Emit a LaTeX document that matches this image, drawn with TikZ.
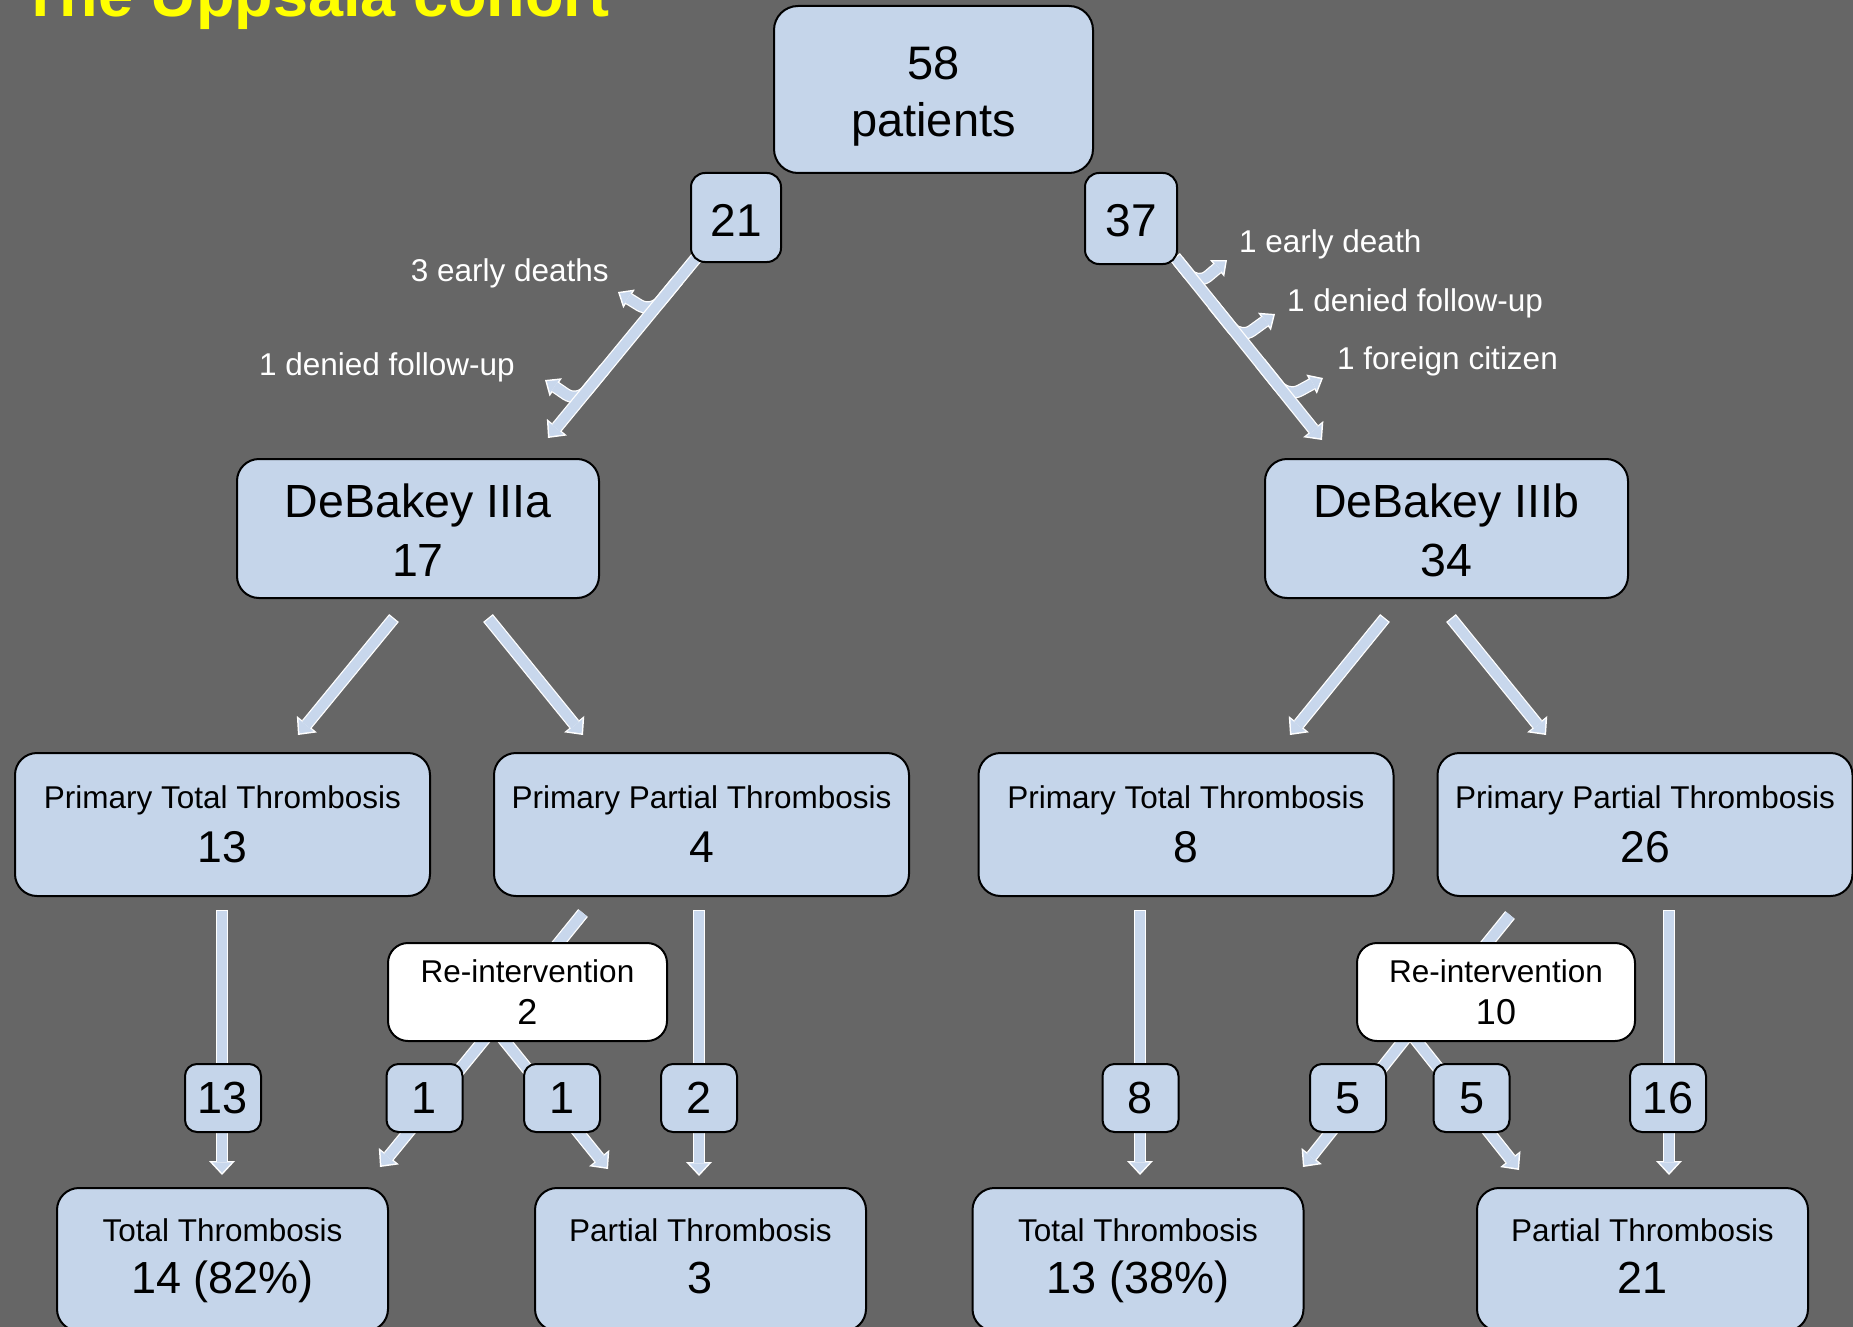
\documentclass[tikz,border=0pt]{standalone}
\usepackage{fontspec}
\setmainfont{Liberation Sans}
\usetikzlibrary{arrows.meta}
\definecolor{bggray}{HTML}{666666}
\definecolor{boxblue}{HTML}{C5D5EA}
\definecolor{arrowblue}{HTML}{C8D7EC}
\definecolor{titleyellow}{HTML}{FFFF00}
\pgfdeclarelayer{bglayer}
\pgfdeclarelayer{arrowlayer}
\pgfsetlayers{bglayer,arrowlayer,main}
\newcommand\fsz[2]{\fontsize{#1}{#2}\selectfont}
\tikzset{
  box/.style={draw=black, line width=2pt, fill=boxblue, rounded corners=22pt, inner sep=0pt, align=center},
  bigbox/.style={box, minimum width=#1, minimum height=143pt},
  smallbox/.style={box, rounded corners=12pt, minimum width=76pt, minimum height=68pt, font=\fsz{45}{54}},
  rebox/.style={box, fill=white, rounded corners=20pt, minimum height=98pt, font=\fsz{31.5}{42}},
  sidelabel/.style={text=white, font=\fsz{31.5}{38}, inner sep=0pt},
  flow/.style={preaction={draw=white, line width=12.5pt, -{Triangle[width=26pt,length=14pt,line width=0pt]}, shorten >=0pt, shorten <=0pt},
    draw=arrowblue, line width=10pt, -{Triangle[width=19.5pt,length=10.5pt,line width=0pt]}, shorten >=2.2pt, shorten <=1.3pt},
  sideflow/.style={rounded corners=14pt, preaction={draw=white, line width=12.5pt, -{Triangle[width=22pt,length=13pt,line width=0pt]}, shorten >=0pt, shorten <=0pt},
    draw=arrowblue, line width=10pt, -{Triangle[width=15.6pt,length=9.2pt,line width=0pt]}, shorten >=2.3pt},
  shaft/.style={preaction={draw=white, line width=12.5pt}, draw=arrowblue, line width=10pt},
}
\begin{document}
\begin{tikzpicture}[x=1pt, y=-1pt]
\useasboundingbox (0,0) rectangle (1853,1327);
\begin{pgfonlayer}{bglayer}
  \fill[bggray] (0,0) rectangle (1853,1327);
\end{pgfonlayer}

% title
\node[anchor=base west, inner sep=0pt, text=titleyellow, font=\fsz{63}{70}\bfseries] (title) at (21,17) {The Uppsala cohort};

% boxes
\node[box, rounded corners=24pt, minimum width=319pt, minimum height=167pt, font=\fsz{47}{58}, text height=95pt, text depth=0pt] (top) at (933.5,89.5) {58\\patients};
\node[box, rounded corners=14pt, minimum width=90pt, minimum height=89pt, font=\fsz{46}{55}, text height=37pt, text depth=0pt] (n21) at (736,217.5) {21};
\node[box, rounded corners=14pt, minimum width=92pt, minimum height=91pt, font=\fsz{46}{55}, text height=36.5pt, text depth=0pt] (n37) at (1131,218.5) {37};

\node[box, minimum width=362pt, minimum height=139pt, font=\fsz{46.5}{59}, text height=95pt, text depth=0pt] (d3a) at (418,528.5) {DeBakey IIIa\\17};
\node[box, minimum width=363pt, minimum height=139pt, font=\fsz{46.5}{59}, text height=95pt, text depth=0pt] (d3b) at (1446.5,528.5) {DeBakey IIIb\\34};

\node[bigbox=415pt, font=\fsz{31.5}{54}] (ptta) at (222.5,824.5) {Primary Total Thrombosis\\{\fsz{44.5}{54}13}};
\node[bigbox=415pt, font=\fsz{31.5}{54}] (ppta) at (701.5,824.5) {Primary Partial Thrombosis\\{\fsz{44.5}{54}4}};
\node[bigbox=415pt, font=\fsz{31.5}{54}] (pttb) at (1186,824.5) {Primary Total Thrombosis\\{\fsz{44.5}{54}8}};
\node[bigbox=415pt, font=\fsz{31.5}{54}] (pptb) at (1645,824.5) {Primary Partial Thrombosis\\{\fsz{44.5}{54}26}};

\node[rebox, minimum width=279pt] (rea) at (527.5,992) {Re-intervention\\{\fsz{36}{42}2}};
\node[rebox, minimum width=278pt] (reb) at (1496,992) {Re-intervention\\{\fsz{36}{42}10}};

\node[smallbox] (c13) at (223,1098) {13};
\node[smallbox] (c1a) at (424.5,1098) {1};
\node[smallbox] (c1b) at (562,1098) {1};
\node[smallbox] (c2) at (699,1098) {2};
\node[smallbox] (c8) at (1140.5,1098) {8};
\node[smallbox] (c5a) at (1348,1098) {5};
\node[smallbox] (c5b) at (1471.5,1098) {5};
\node[smallbox] (c16) at (1668,1098) {16};

\node[bigbox=331pt, font=\fsz{31.5}{52}, text depth=6pt] (tta) at (222.5,1259.5) {Total Thrombosis\\{\fsz{45}{52}14 (82\%)}};
\node[bigbox=331pt, font=\fsz{31.5}{52}, text depth=6pt] (pta) at (700.5,1259.5) {Partial Thrombosis\\{\fsz{45}{52}3}};
\node[bigbox=331pt, font=\fsz{31.5}{52}, text depth=6pt] (ttb) at (1138,1259.5) {Total Thrombosis\\{\fsz{45}{52}13 (38\%)}};
\node[bigbox=331pt, font=\fsz{31.5}{52}, text depth=6pt] (ptb) at (1642.5,1259.5) {Partial Thrombosis\\{\fsz{45}{52}21}};

% side labels
\node[sidelabel, anchor=base east] (lab1) at (609,281) {3 early deaths};
\node[sidelabel, anchor=base east] (lab2) at (515,375) {1 denied follow-up};
\node[sidelabel, anchor=base west] (lab3) at (1239,252) {1 early death};
\node[sidelabel, anchor=base west] (lab4) at (1287,311) {1 denied follow-up};
\node[sidelabel, anchor=base west] (lab5) at (1337,369) {1 foreign citizen};

% connector end points
\coordinate (mL0) at (697,257);   \coordinate (mL1) at (548,438);
\coordinate (bL1s) at (678,280); \coordinate (bL1b) at (651.2,312.6); \coordinate (bL1t) at (618,292);
\coordinate (bL2s) at (605,368.6);   \coordinate (bL2b) at (577.4,402.1); \coordinate (bL2t) at (545,380);
\coordinate (mR0) at (1175,257);  \coordinate (mR1) at (1322,440);
\coordinate (bR1s) at (1178,260.8); \coordinate (bR1b) at (1197.5,285);  \coordinate (bR1t) at (1227,260);
\coordinate (bR2s) at (1213,304.6);   \coordinate (bR2b) at (1240.7,338.8); \coordinate (bR2t) at (1275,314);
\coordinate (bR3s) at (1260,362.7);   \coordinate (bR3b) at (1287.7,397.2); \coordinate (bR3t) at (1323,378);

\coordinate (da0) at (394,618);  \coordinate (da1) at (298,735);
\coordinate (da2) at (488,618);  \coordinate (da3) at (583,735);
\coordinate (db0) at (1385,618); \coordinate (db1) at (1290,735);
\coordinate (db2) at (1451,618); \coordinate (db3) at (1546,735);

\coordinate (va0) at (222,910);  \coordinate (va1) at (222,1175);
\coordinate (vb0) at (699,910);  \coordinate (vb1) at (699,1176);
\coordinate (vc0) at (1140,910); \coordinate (vc1) at (1140,1175);
\coordinate (vd0) at (1669,910); \coordinate (vd1) at (1669,1175);

\coordinate (ria0) at (583,913);  \coordinate (ria1) at (545,960);
\coordinate (rib0) at (1510,915); \coordinate (rib1) at (1472,962);

\coordinate (roa0) at (488,1035);  \coordinate (roa1) at (380,1167);
\coordinate (roa2) at (500,1035);  \coordinate (roa3) at (608,1169);
\coordinate (rob0) at (1408,1035); \coordinate (rob1) at (1303,1167);
\coordinate (rob2) at (1412,1035); \coordinate (rob3) at (1519,1170);

\begin{pgfonlayer}{arrowlayer}
  \draw[sideflow] (bL1s) -- (bL1b) -- (bL1t);
  \draw[sideflow] (bL2s) -- (bL2b) -- (bL2t);
  \draw[flow] (mL0) -- (mL1);
  \draw[sideflow] (bR1s) -- (bR1b) -- (bR1t);
  \draw[sideflow] (bR2s) -- (bR2b) -- (bR2t);
  \draw[sideflow] (bR3s) -- (bR3b) -- (bR3t);
  \draw[flow] (mR0) -- (mR1);

  \draw[flow] (da0) -- (da1);
  \draw[flow] (da2) -- (da3);
  \draw[flow] (db0) -- (db1);
  \draw[flow] (db2) -- (db3);

  \draw[flow] (va0) -- (va1);
  \draw[flow] (vb0) -- (vb1);
  \draw[flow] (vc0) -- (vc1);
  \draw[flow] (vd0) -- (vd1);

  \draw[shaft] (ria0) -- (ria1);
  \draw[shaft] (rib0) -- (rib1);

  \draw[flow] (roa0) -- (roa1);
  \draw[flow] (roa2) -- (roa3);
  \draw[flow] (rob0) -- (rob1);
  \draw[flow] (rob2) -- (rob3);
\end{pgfonlayer}
\end{tikzpicture}
\end{document}
